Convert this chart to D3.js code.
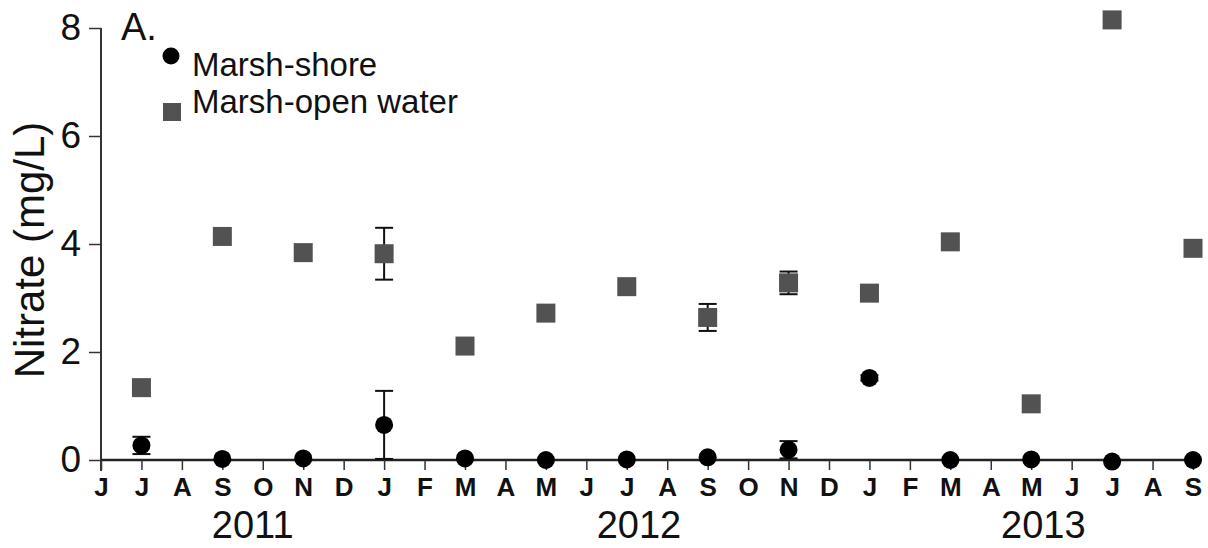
<!DOCTYPE html>
<html>
<head>
  <meta charset="utf-8">
  <title>Nitrate</title>
  <script src="https://d3js.org/d3.v7.min.js"></script>
  <style>
    body { margin: 0; background: #fff; }
    text { font-family: "Liberation Sans", Arial, sans-serif; fill: #111; }
  </style>
</head>
<body>
  <svg width="1208" height="548"></svg>

  <script>
    // month axis: June 2011 .. September 2013
    const monthLabels = ["J","J","A","S","O","N","D","J","F","M","A","M","J","J","A","S","O","N","D","J","F","M","A","M","J","J","A","S"];
    const firstMonth = { year: 2011, month: 6 };
    const yearLabels = [
      { text: "2011", at: 3.75 },
      { text: "2012", at: 13.3 },
      { text: "2013", at: 23.3 }
    ];
    const yTicks = [0, 2, 4, 6, 8];

    // sampling dates
    const sampleDates = ["2011-07","2011-09","2011-11","2012-01","2012-03","2012-05","2012-07",
                         "2012-09","2012-11","2013-01","2013-03","2013-05","2013-07","2013-09"];

    // Marsh-shore (mean, error)
    const shoreMean = [0.27, 0.02, 0.03, 0.65, 0.03, 0.00, 0.01, 0.05, 0.19, 1.52, 0.00, 0.01, -0.03, 0.00];
    const shoreErr  = [0.16, 0,    0,    0.63, 0,    0,    0,    0,    0.16, 0.05, 0,    0,    0,     0];

    // Marsh-open water (mean, error)
    const openMean = [1.34, 4.14, 3.84, 3.82, 2.11, 2.72, 3.21, 2.64, 3.28, 3.09, 4.04, 1.04, 8.15, 3.92];
    const openErr  = [0,    0,    0,    0.48, 0,    0,    0,    0.25, 0.21, 0,    0,    0,    0,    0];

    const svg = d3.select("svg");

    const monthIndex = s => {
      const [y, m] = s.split("-").map(Number);
      return (y - firstMonth.year) * 12 + (m - firstMonth.month);
    };

    const x = d3.scaleLinear().domain([0, monthLabels.length - 1]).range([101, 1193]);
    const y = d3.scaleLinear().domain([0, 8]).range([460, 28]);

    const shore = sampleDates.map((d, i) => ({ m: monthIndex(d), v: shoreMean[i], e: shoreErr[i] }));
    const open = sampleDates.map((d, i) => ({ m: monthIndex(d), v: openMean[i], e: openErr[i] }));

    // y axis
    const yAxis = svg.append("g")
      .attr("transform", "translate(101,0)")
      .call(d3.axisLeft(y).tickValues(yTicks).tickSize(12).tickPadding(8).tickFormat(d3.format("d")));
    yAxis.select(".domain").attr("stroke", "#333").attr("stroke-width", 2)
      .attr("d", `M0,${y(8)}V${y(0) + 11}`);
    yAxis.selectAll(".tick line").attr("stroke", "#333").attr("stroke-width", 1.5);
    yAxis.selectAll(".tick text").attr("font-size", 37).attr("fill", "#111")
      .attr("font-family", "Liberation Sans, Arial, sans-serif");

    // x axis
    const xAxis = svg.append("g")
      .attr("transform", `translate(0,${y(0)})`)
      .call(d3.axisBottom(x).tickValues(d3.range(monthLabels.length)).tickSize(10).tickPadding(8)
        .tickFormat(i => monthLabels[i]));
    xAxis.select(".domain").attr("stroke", "#222").attr("stroke-width", 2.5)
      .attr("d", `M${x(0)},0H1200`);
    xAxis.selectAll(".tick line").attr("stroke", "#333").attr("stroke-width", 1.5);
    xAxis.selectAll(".tick text").attr("font-size", 26).attr("font-weight", "bold").attr("fill", "#111")
      .attr("font-family", "Liberation Sans, Arial, sans-serif");

    svg.selectAll(".year")
      .data(yearLabels)
      .enter().append("text")
      .attr("class", "year")
      .attr("x", d => x(d.at))
      .attr("y", 538)
      .attr("text-anchor", "middle")
      .attr("font-size", 38)
      .text(d => d.text);

    svg.append("text")
      .attr("transform", `translate(44,${(y(0) + y(8)) / 2 + 6}) rotate(-90)`)
      .attr("text-anchor", "middle")
      .attr("font-size", 42)
      .text("Nitrate (mg/L)");

    svg.append("text")
      .attr("x", 121).attr("y", 40)
      .attr("font-size", 38)
      .text("A.");

    // error bars
    const bars = open.concat(shore).filter(d => d.e > 0);
    const eb = svg.append("g").attr("stroke", "#111").attr("stroke-width", 2);
    bars.forEach(d => {
      const cx = x(d.m);
      eb.append("line").attr("x1", cx).attr("x2", cx).attr("y1", y(d.v - d.e)).attr("y2", y(d.v + d.e));
      [d.v - d.e, d.v + d.e].forEach(v => {
        eb.append("line").attr("x1", cx - 9).attr("x2", cx + 9).attr("y1", y(v)).attr("y2", y(v));
      });
    });

    // squares
    svg.selectAll(".sq")
      .data(open)
      .enter().append("rect")
      .attr("class", "sq")
      .attr("x", d => x(d.m) - 9.5)
      .attr("y", d => y(d.v) - 9.5)
      .attr("width", 19).attr("height", 19)
      .attr("fill", "#525252");

    // circles
    svg.selectAll(".dot")
      .data(shore)
      .enter().append("circle")
      .attr("class", "dot")
      .attr("cx", d => x(d.m))
      .attr("cy", d => y(d.v))
      .attr("r", 9)
      .attr("fill", "#000");

    // legend
    const legend = svg.append("g");
    legend.append("circle").attr("cx", 171).attr("cy", 56).attr("r", 8.5).attr("fill", "#000");
    legend.append("rect").attr("x", 163).attr("y", 103).attr("width", 18).attr("height", 18).attr("fill", "#525252");
    legend.append("text").attr("x", 192).attr("y", 76).attr("font-size", 33).text("Marsh-shore");
    legend.append("text").attr("x", 192).attr("y", 113).attr("font-size", 33).text("Marsh-open water");
  </script>
</body>
</html>
